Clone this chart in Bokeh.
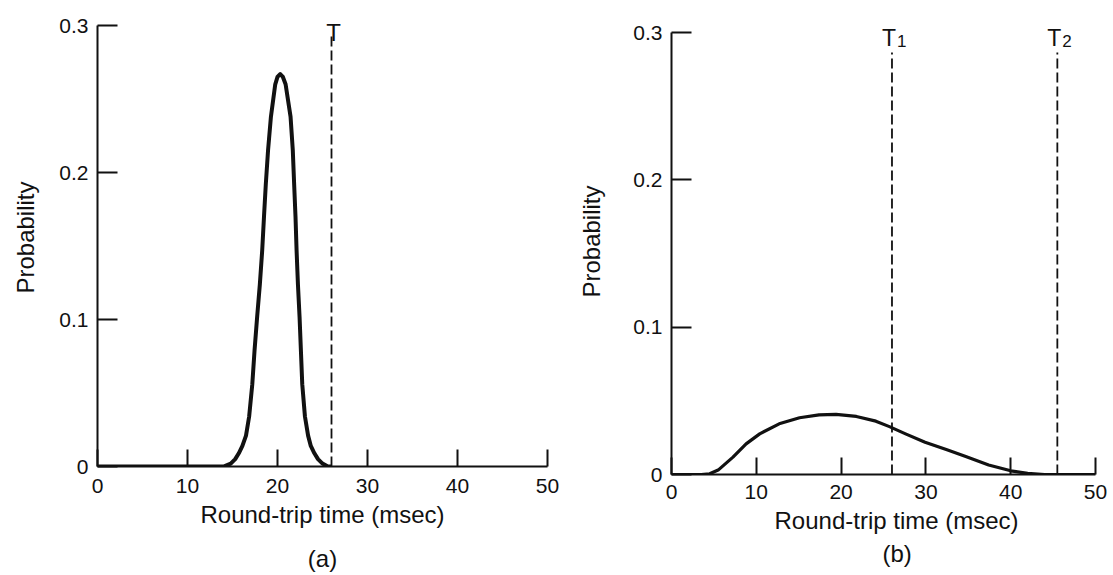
from bokeh.plotting import figure
from bokeh.models import Range1d, FixedTicker, LinearAxis, ColumnDataSource, Title
from bokeh.layouts import row
from bokeh.embed import file_html
from bokeh.resources import INLINE
from bokeh.core.properties import value

# ---------------- data ----------------
x_ticks = [0, 10, 20, 30, 40, 50]
x_tick_labels = ["0", "10", "20", "30", "40", "50"]
y_ticks = [0, 0.1, 0.2, 0.3]
y_tick_labels = ["0", "0.1", "0.2", "0.3"]
x_title = "Round-trip time (msec)"
y_title = "Probability"

# (a) data-link layer: narrow distribution
rtt_a = [0, 5, 10, 13, 14.0, 14.8, 15.3, 15.7, 16.1, 16.5, 16.85, 17.2, 17.45, 17.74,
         18.04, 18.3, 18.5, 18.7, 18.95, 19.27, 19.75, 20.0, 20.3, 20.6, 20.9, 21.45,
         21.7, 21.85, 22.0, 22.12, 22.27, 22.45, 22.6, 22.75, 23.05, 23.4, 23.7, 24.1,
         24.5, 25.0, 25.6, 26.0]
prob_a = [0, 0, 0, 0, 0.0, 0.002, 0.005, 0.009, 0.014, 0.021, 0.034, 0.056, 0.079, 0.102,
          0.124, 0.147, 0.170, 0.192, 0.215, 0.238, 0.260, 0.265, 0.267, 0.265, 0.260,
          0.238, 0.215, 0.192, 0.170, 0.147, 0.124, 0.102, 0.079, 0.056, 0.034, 0.021,
          0.014, 0.009, 0.005, 0.002, 0.0, 0.0]
timeout_a = [26]
timeout_a_names = ["T"]
timeout_a_subs = [""]

# (b) TCP: wide distribution
rtt_b = [0, 3.5, 4.5, 5.5, 7.25, 8.8, 10.4, 12.7, 15.1, 17.4, 19.4, 21.8, 24.1, 25.7,
         27.6, 29.9, 32.4, 34.7, 37.4, 40, 42, 44, 50]
prob_b = [0, 0, 0.0005, 0.003, 0.0118, 0.0208, 0.0276, 0.0344, 0.0385, 0.0405, 0.0408,
          0.0394, 0.0362, 0.0325, 0.0276, 0.0219, 0.017, 0.0122, 0.0065, 0.0025,
          0.0008, 0, 0]
timeout_b = [26, 45.5]
timeout_b_names = ["T", "T"]
timeout_b_subs = ["1", "2"]

captions = ["(a)", "(b)"]

# ---------------- style / geometry ----------------
FONT = "Liberation Sans"
INK = "#111111"

geom_a = dict(frame_w=450, frame_h=458, px_per_y=1470.0, bl=97, br=23, bt=8, bb=108,
              xstand=12, ystand=9, ylab_stand=17, text_mode="axis",
              title_stand=5, cap_stand=14,
              dash_top_px=431, lab_base_px=434, sub_drop=3, curve_w=4.0)
geom_b = dict(frame_w=424, frame_h=466, px_per_y=1473.0, bl=101, br=12, bt=8, bb=100,
              xstand=10, ystand=9, ylab_stand=25, text_mode="title",
              title_offset=103, title_stand=6, cap_offset=211, cap_stand=6,
              dash_top_px=422, lab_base_px=437, sub_drop=3, curve_w=3.2)


def text_axis(p, label, standoff):
    ax = LinearAxis(ticker=FixedTicker(ticks=[]), axis_label=label,
                    axis_label_standoff=standoff, axis_line_color=None,
                    major_tick_in=0, major_tick_out=0, minor_tick_in=0, minor_tick_out=0,
                    major_label_standoff=0,
                    axis_label_text_font=FONT, axis_label_text_font_size="24px",
                    axis_label_text_font_style="normal", axis_label_text_color=INK)
    p.add_layout(ax, "below")


def text_title(p, label, offset, standoff, valign):
    t = Title(text=label, align="left", offset=offset, standoff=standoff,
              vertical_align=valign, text_font=FONT, text_font_size="24px",
              text_font_style="normal", text_color=INK)
    p.add_layout(t, "below")


def make_panel(rtt, prob, tvals, tnames, tsubs, caption, g):
    pxy = g["px_per_y"]
    y_end = g["frame_h"] / pxy
    p = figure(frame_width=g["frame_w"], frame_height=g["frame_h"],
               x_range=Range1d(0, 50), y_range=Range1d(0, y_end),
               min_border_left=g["bl"], min_border_right=g["br"],
               min_border_top=g["bt"], min_border_bottom=g["bb"],
               output_backend="svg", toolbar_location=None, tools="")
    p.outline_line_color = None
    p.grid.visible = False
    p.background_fill_color = "white"
    p.border_fill_color = "white"

    xa = p.xaxis[0]
    xa.ticker = FixedTicker(ticks=x_ticks)
    xa.major_label_overrides = dict(zip(x_ticks, x_tick_labels))
    ya = p.yaxis[0]
    ya.ticker = FixedTicker(ticks=y_ticks)
    ya.major_label_overrides = dict(zip(y_ticks, y_tick_labels))
    ya.bounds = (0, 0.3)
    for ax, tin in ((xa, 17), (ya, 20)):
        ax.major_tick_in = tin
        ax.major_tick_out = 0
        ax.minor_tick_in = 0
        ax.minor_tick_out = 0
        ax.axis_line_width = 2
        ax.axis_line_color = INK
        ax.major_tick_line_width = 2
        ax.major_tick_line_color = INK
        ax.major_label_text_font = FONT
        ax.major_label_text_font_size = "21px"
        ax.major_label_text_color = INK
    xa.major_label_standoff = g["xstand"]
    ya.major_label_standoff = g["ystand"]
    ya.axis_label = y_title
    ya.axis_label_text_font = FONT
    ya.axis_label_text_font_size = "24px"
    ya.axis_label_text_font_style = "normal"
    ya.axis_label_text_color = INK
    ya.axis_label_standoff = g["ylab_stand"]

    # x-axis title and panel caption below the ticked axis
    if g["text_mode"] == "axis":
        text_axis(p, x_title, g["title_stand"])
        text_axis(p, caption, g["cap_stand"])
    else:
        text_title(p, x_title, g["title_offset"], g["title_stand"], "bottom")
        text_title(p, caption, g["cap_offset"], g["cap_stand"], "top")

    # distribution curve
    p.line(rtt, prob, line_width=g["curve_w"], line_color=INK, line_join="round")

    # timeout thresholds
    top = g["dash_top_px"] / pxy
    src = ColumnDataSource(dict(t=tvals, y0=[0] * len(tvals), y1=[top] * len(tvals)))
    p.segment(x0="t", y0="y0", x1="t", y1="y1", source=src,
              line_dash="10 4", line_width=1.8, line_color=INK)
    lab_y = g["lab_base_px"] / pxy
    for t, name, sub in zip(tvals, tnames, tsubs):
        if sub:
            p.text(x=[t], y=[lab_y], text=[name], text_align="right", text_baseline="alphabetic",
                   x_offset=4, text_font=value(FONT), text_font_size=value("23px"), text_color=INK)
            p.text(x=[t], y=[lab_y], text=[sub], text_align="left", text_baseline="alphabetic",
                   x_offset=5, y_offset=g["sub_drop"], text_font=value(FONT),
                   text_font_size=value("17px"), text_color=INK)
        else:
            p.text(x=[t], y=[lab_y], text=[name], text_align="center", text_baseline="alphabetic",
                   x_offset=2, text_font=value(FONT), text_font_size=value("24px"), text_color=INK)
    return p


pa = make_panel(rtt_a, prob_a, timeout_a, timeout_a_names, timeout_a_subs, captions[0], geom_a)
pb = make_panel(rtt_b, prob_b, timeout_b, timeout_b_names, timeout_b_subs, captions[1], geom_b)

layout = row(pa, pb)
open("out.html", "w").write(file_html(layout, INLINE))
